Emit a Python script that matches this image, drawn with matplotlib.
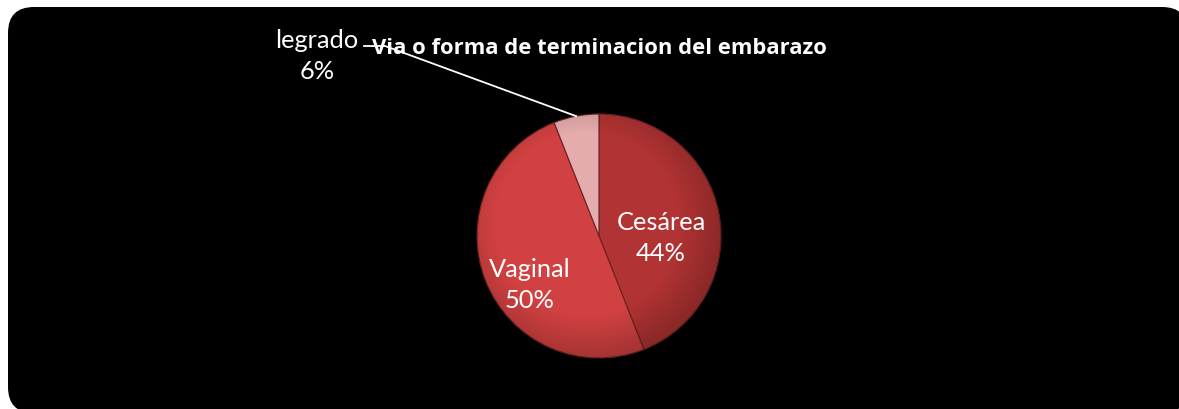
import numpy as np
import matplotlib
matplotlib.use('Agg')
import matplotlib.pyplot as plt
from matplotlib.patches import FancyBboxPatch, Circle

# Pie data, drawn clockwise from 12 o'clock
labels = ['Cesárea', 'Vaginal', 'legrado']
values = [44, 50, 6]
colors = ['#b23333', '#d24141', '#e4acac']
title = 'Via o forma de terminacion del embarazo'

plt.rcParams['font.family'] = ['Lato', 'DejaVu Sans']

fig = plt.figure(figsize=(11.79, 4.10), dpi=100)
ax = fig.add_axes([0, 0, 1, 1])

# Black rounded panel behind everything
panel = FancyBboxPatch((8, -4), 1180, 406, boxstyle='round,pad=0,rounding_size=26',
                       facecolor='black', edgecolor='none', zorder=0)
ax.add_patch(panel)

cx, cy, r = 599, 173, 122
wedges, _ = ax.pie(values, colors=colors, startangle=90, counterclock=False,
                   center=(cx, cy), radius=r, frame=True,
                   wedgeprops=dict(edgecolor='#6a2222', linewidth=0.8))

# Soft rim shading so the pie looks slightly domed
n = 300
xs = np.linspace(-1, 1, n)
xx, yy = np.meshgrid(xs, xs)
d = np.sqrt((xx + 0.1) ** 2 + (yy - 0.1) ** 2)
shade = np.zeros((n, n, 4))
shade[..., 3] = np.clip((d - 0.75) * 0.6, 0, 0.22)
img = ax.imshow(shade, extent=(cx - r, cx + r, cy - r, cy + r), origin='lower', zorder=3)
img.set_clip_path(Circle((cx, cy), r, transform=ax.transData))

ax.set_xlim(0, 1179)
ax.set_ylim(0, 410)
ax.set_aspect('equal')
ax.axis('off')

# Labels inside the big slices
ax.text(661, 172, 'Cesárea\n44%', color='white', fontsize=18.3, ha='center', va='center',
        linespacing=1.42, zorder=5)
ax.text(530, 125, 'Vaginal\n50%', color='white', fontsize=18.3, ha='center', va='center',
        linespacing=1.42, zorder=5)

# Outside label for the small slice with leader line
w = wedges[2]
mid = np.deg2rad((w.theta1 + w.theta2) / 2)
ex, ey = cx + r * np.cos(mid), cy + r * np.sin(mid)
ax.text(317, 354, 'legrado\n6%', color='white', fontsize=18.3, ha='center', va='center',
        linespacing=1.42, zorder=5)
ax.plot([364, 385, ex], [363, 363, ey], color='white', lw=1.3, zorder=4)

ax.text(599, 362, title, color='white', fontsize=15.8, fontweight='bold',
        family=['Open Sans', 'DejaVu Sans'], ha='center', va='center', zorder=6)

fig.savefig('out.png', dpi=100, facecolor='white')
